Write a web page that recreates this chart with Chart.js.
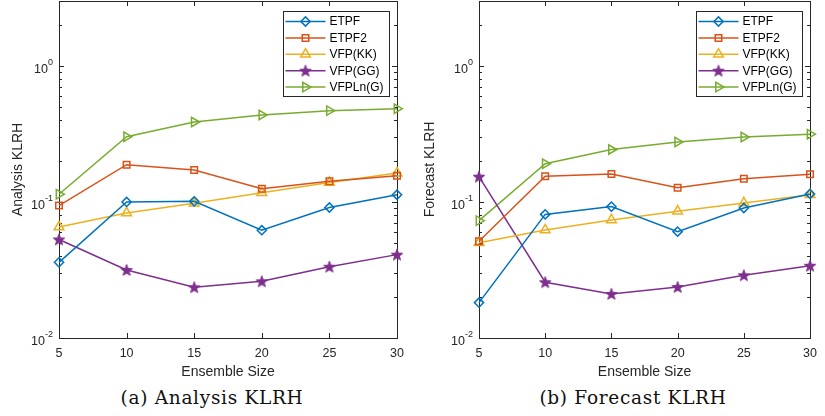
<!DOCTYPE html>
<html>
<head>
<meta charset="utf-8">
<script src="https://cdn.jsdelivr.net/npm/chart.js@4.4.0/dist/chart.umd.min.js"></script>
<style>
  body { margin: 0; background: #fff; width: 825px; height: 416px; position: relative; overflow: hidden; }
  .panel { position: absolute; top: 0; }
  .caption { position: absolute; top: 387px; width: 240px; text-align: center; letter-spacing: 0.7px;
             font-family: "DejaVu Serif", "Liberation Serif", serif; font-size: 18.5px; color: #111; }
</style>
</head>
<body>
<div class="panel" style="left:0;width:412px;height:385px"><canvas id="analysis" width="412" height="385"></canvas></div>
<div class="panel" style="left:412px;width:413px;height:385px"><canvas id="forecast" width="413" height="385"></canvas></div>
<div class="caption" style="left:92px">(a) Analysis KLRH</div>
<div class="caption" style="left:513px">(b) Forecast KLRH</div>

<script>
// ensemble sizes on the x axis
const ensembleSizes = [5, 10, 15, 20, 25, 30];
const seriesNames = ["ETPF", "ETPF2", "VFP(KK)", "VFP(GG)", "VFPLn(G)"];

// (a) analysis KLRH
const analysisETPF  = [0.036, 0.100, 0.101, 0.062, 0.091, 0.113];
const analysisETPF2 = [0.094, 0.188, 0.172, 0.125, 0.142, 0.156];
const analysisVFPKK = [0.0655, 0.083, 0.098, 0.117, 0.139, 0.163];
const analysisVFPGG = [0.053, 0.0316, 0.0236, 0.0261, 0.0334, 0.041];
const analysisVFPLn = [0.114, 0.302, 0.387, 0.436, 0.469, 0.485];

// (b) forecast KLRH
const forecastETPF  = [0.0182, 0.081, 0.0924, 0.0605, 0.0903, 0.1146];
const forecastETPF2 = [0.0514, 0.1545, 0.1607, 0.1274, 0.148, 0.160];
const forecastVFPKK = [0.0502, 0.0622, 0.0738, 0.0855, 0.0984, 0.113];
const forecastVFPGG = [0.1535, 0.0257, 0.0211, 0.0237, 0.0289, 0.034];
const forecastVFPLn = [0.0729, 0.191, 0.243, 0.276, 0.300, 0.315];

// y axis range and decades that get a label
const yMin = 0.01;
const yMax = 3;
const yDecades = [0.01, 0.1, 1];

const axisColor = "#262626";
const fontFamily = "'Liberation Sans', Arial, sans-serif";
const tickSize = 12.5;
const titleSize = 14;
const colors = ["#0072BD", "#D95319", "#EDB120", "#7E2F8E", "#77AC30"];

// filled five point star, like matlab's pentagram marker
function makeStar(color, r) {
    const c = document.createElement("canvas");
    const size = Math.ceil(r * 2 + 2);
    c.width = size; c.height = size;
    const g = c.getContext("2d");
    const cx = size / 2, cy = size / 2 + 0.5;
    g.beginPath();
    for (let i = 0; i < 10; i++) {
        const rad = i % 2 == 0 ? r : r * 0.42;
        const a = -Math.PI / 2 + i * Math.PI / 5;
        const px = cx + rad * Math.cos(a), py = cy + rad * Math.sin(a);
        if (i == 0) g.moveTo(px, py); else g.lineTo(px, py);
    }
    g.closePath();
    g.fillStyle = color;
    g.fill();
    g.strokeStyle = color;
    g.lineWidth = 1;
    g.stroke();
    return c;
}

const markers = [
    { pointStyle: "rectRot", rotation: 0, radius: 4.6 },
    { pointStyle: "rect", rotation: 0, radius: 4.6 },
    { pointStyle: "triangle", rotation: 0, radius: 5.6 },
    { pointStyle: makeStar(colors[3], 6), rotation: 0, radius: 6 },
    { pointStyle: "triangle", rotation: 90, radius: 5.4 }
];

function yTickList() {
    const list = [];
    for (let e = -2; e <= 0; e++) {
        for (let m = 1; m <= 9; m++) {
            const v = +(m * Math.pow(10, e)).toPrecision(3);
            if (v >= yMin && v <= yMax) list.push({ value: v, major: m == 1 });
        }
    }
    return list;
}

// box, inside tick marks and 10^n labels
const matlabAxes = {
    id: "matlabAxes",
    beforeDatasetsDraw(chart) {
        const ctx = chart.ctx;
        const a = chart.chartArea;
        const xs = chart.scales.x, ys = chart.scales.y;
        ctx.save();
        ctx.strokeStyle = axisColor;
        ctx.lineWidth = 1;
        ctx.strokeRect(Math.round(a.left) + 0.5, Math.round(a.top) + 0.5,
            Math.round(a.right - a.left), Math.round(a.bottom - a.top));
        ctx.beginPath();
        ensembleSizes.forEach(v => {
            const px = Math.round(xs.getPixelForValue(v)) + 0.5;
            ctx.moveTo(px, a.bottom); ctx.lineTo(px, a.bottom - 5);
            ctx.moveTo(px, a.top); ctx.lineTo(px, a.top + 5);
        });
        yTickList().forEach(t => {
            const py = Math.round(ys.getPixelForValue(t.value)) + 0.5;
            const len = t.major ? 5 : 3;
            ctx.moveTo(a.left, py); ctx.lineTo(a.left + len, py);
            ctx.moveTo(a.right, py); ctx.lineTo(a.right - len, py);
        });
        ctx.stroke();

        ctx.fillStyle = axisColor;
        ctx.textBaseline = "middle";
        yDecades.forEach(v => {
            const py = ys.getPixelForValue(v);
            const exp = String(Math.round(Math.log10(v)));
            ctx.font = "9px " + fontFamily;
            const ew = ctx.measureText(exp).width;
            ctx.textAlign = "right";
            const right = a.left - 6;
            ctx.fillText(exp, right, py - 3);
            ctx.font = tickSize + "px " + fontFamily;
            ctx.fillText("10", right - ew, py + 3.5);
        });
        ctx.restore();
    }
};

// legend box in the top right corner of the axes
const matlabLegend = {
    id: "matlabLegend",
    afterDraw(chart) {
        const ctx = chart.ctx;
        const a = chart.chartArea;
        const w = 106, h = 85, rowH = 16.4;
        const left = Math.round(a.right - 8 - w) + 0.5;
        const top = Math.round(a.top + 10) + 0.5;
        ctx.save();
        ctx.fillStyle = "#fff";
        ctx.fillRect(left, top, w, h);
        ctx.strokeStyle = axisColor;
        ctx.lineWidth = 1;
        ctx.strokeRect(left, top, w, h);
        chart.data.datasets.forEach((ds, i) => {
            const y = top + 10 + i * rowH;
            ctx.strokeStyle = ds.borderColor;
            ctx.lineWidth = 1.5;
            ctx.beginPath();
            ctx.moveTo(left + 2, y); ctx.lineTo(left + 42, y);
            ctx.stroke();
            ctx.fillStyle = "rgba(0,0,0,0)";
            Chart.helpers.drawPoint(ctx, {
                pointStyle: ds.pointStyle, rotation: ds.pointRotation,
                radius: ds.pointRadius, borderWidth: 1.5
            }, left + 22, y);
            ctx.fillStyle = "#000";
            ctx.font = "12px " + fontFamily;
            ctx.textAlign = "left";
            ctx.textBaseline = "middle";
            ctx.fillText(ds.label, left + 46, y + 0.5);
        });
        ctx.restore();
    }
};

function makeChart(id, title, series, yWidth, padRight) {
    const datasets = series.map((values, i) => ({
        label: seriesNames[i],
        data: ensembleSizes.map((x, j) => ({ x: x, y: values[j] })),
        borderColor: colors[i],
        backgroundColor: "rgba(0,0,0,0)",
        borderWidth: 1.5,
        pointStyle: markers[i].pointStyle,
        pointRotation: markers[i].rotation,
        pointRadius: markers[i].radius,
        pointBorderWidth: 1.5,
        pointBorderColor: colors[i],
        pointBackgroundColor: "rgba(0,0,0,0)",
        tension: 0,
        clip: false
    }));

    new Chart(document.getElementById(id), {
        type: "line",
        data: { datasets: datasets },
        plugins: [matlabAxes, matlabLegend],
        options: {
            responsive: false,
            animation: false,
            events: [],
            layout: { autoPadding: false, padding: { left: 0, right: padRight, top: 1, bottom: 0 } },
            plugins: { legend: { display: false }, tooltip: { enabled: false } },
            scales: {
                x: {
                    type: "linear",
                    min: 5,
                    max: 30,
                    grid: { display: false, drawTicks: false },
                    border: { display: false },
                    ticks: { stepSize: 5, color: axisColor, padding: 8, font: { family: fontFamily, size: tickSize } },
                    title: { display: true, text: "Ensemble Size", color: axisColor,
                             padding: { top: 0, bottom: 4.5 }, font: { family: fontFamily, size: titleSize } },
                    afterFit: s => { s.height = 47; }
                },
                y: {
                    type: "logarithmic",
                    min: yMin,
                    max: yMax,
                    grid: { display: false, drawTicks: false },
                    border: { display: false },
                    ticks: { display: false },
                    title: { display: true, text: title, color: axisColor,
                             padding: { top: 9.5, bottom: 0 }, font: { family: fontFamily, size: titleSize } },
                    afterBuildTicks: s => { s.ticks = yTickList(); },
                    afterFit: s => { s.width = yWidth; }
                }
            }
        }
    });
}

makeChart("analysis", "Analysis KLRH",
    [analysisETPF, analysisETPF2, analysisVFPKK, analysisVFPGG, analysisVFPLn], 59, 15);
makeChart("forecast", "Forecast KLRH",
    [forecastETPF, forecastETPF2, forecastVFPKK, forecastVFPGG, forecastVFPLn], 67, 8);
</script>
</body>
</html>
